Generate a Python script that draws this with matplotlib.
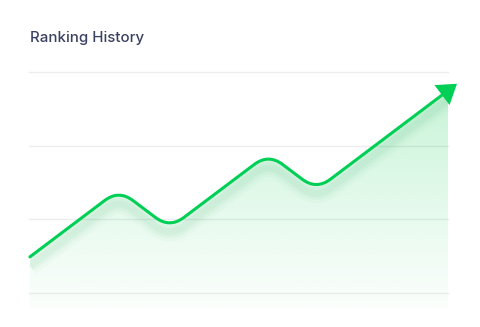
import numpy as np
from matplotlib import pyplot as plt
from matplotlib.path import Path
from matplotlib.patches import PathPatch
from matplotlib import transforms

# Ranking history points (x: time step, y: ranking score)
x_vals = [0.03, 3.0, 4.7, 8.0, 9.6, 14.3]
y_vals = [0.49, 1.40, 0.88, 1.89, 1.40, 2.84]
grid_levels = [0, 1, 2, 3]
title = "Ranking History"

GREEN = "#00cf55"


# Polyline with rounded corners (quadratic curves at inner vertices)
def rounded_path(xs, ys, r=0.47, end_x=None):
    pts = np.column_stack([xs, ys]).astype(float)
    verts = [tuple(pts[0])]
    codes = [Path.MOVETO]
    for i in range(1, len(pts) - 1):
        prev, v, nxt = pts[i - 1], pts[i], pts[i + 1]
        p_in = v + (prev - v) * (r / abs(v[0] - prev[0]))
        p_out = v + (nxt - v) * (r / abs(nxt[0] - v[0]))
        verts += [tuple(p_in), tuple(v), tuple(p_out)]
        codes += [Path.LINETO, Path.CURVE3, Path.CURVE3]
    last = pts[-1]
    if end_x is not None:
        prev = pts[-2]
        t = (end_x - prev[0]) / (last[0] - prev[0])
        last = prev + (last - prev) * t
    verts.append(tuple(last))
    codes.append(Path.LINETO)
    return verts, codes


fig = plt.figure(figsize=(4.8, 3.27), dpi=100)
ax = fig.add_axes([29 / 480, 0.059, 419 / 480, 0.7208])
ax.set_xlim(0, 14)
ax.set_ylim(-0.2, 3.0)
ax.axis('off')

fig.text(30 / 480, 1 - 38 / 327, title, fontsize=10.8, family=['Inter', 'DejaVu Sans'],
         fontweight='medium', color='#3a4060', va='center', ha='left')

for g in grid_levels:
    ax.axhline(g, color='#ededed', lw=1.0, zorder=0, clip_on=False)

# Area under the line with vertical gradient
verts, codes = rounded_path(x_vals, y_vals)
fill_verts = verts + [(x_vals[-1], -0.2), (x_vals[0], -0.2), verts[0]]
fill_codes = codes + [Path.LINETO, Path.LINETO, Path.CLOSEPOLY]
clip = PathPatch(Path(fill_verts, fill_codes), transform=ax.transData,
                 facecolor='none', edgecolor='none')
ax.add_patch(clip)

yy = np.linspace(0, 1, 256)[:, None]
grad = np.zeros((256, 2, 4))
grad[..., 0] = 0.0
grad[..., 1] = 0.80
grad[..., 2] = 0.30
grad[..., 3] = 0.02 + 0.22 * yy ** 1.1
im = ax.imshow(grad, extent=[0, 14.3, -0.2, 3.0], origin='lower', aspect='auto',
               interpolation='bilinear', zorder=1)
im.set_clip_path(clip)

# Soft shadow just under the line
shadow_tr = transforms.offset_copy(ax.transData, fig=fig, x=0, y=-9, units='dots')
for lw, a in [(14, 0.025), (9, 0.035), (5, 0.04)]:
    sh = PathPatch(Path(verts, codes), transform=shadow_tr, facecolor='none',
                   edgecolor=(0.0, 0.6, 0.25, a), lw=lw, zorder=2)
    ax.add_patch(sh)
    sh.set_clip_path(clip)

# Main line
lverts, lcodes = rounded_path(x_vals, y_vals, end_x=x_vals[-1] - 0.45)
ax.add_patch(PathPatch(Path(lverts, lcodes), facecolor='none', edgecolor=GREEN,
                       lw=2.2, capstyle='round', joinstyle='round', zorder=3,
                       clip_on=False))

# Arrow head at the end
t = 0.93
start = (x_vals[-2] + (x_vals[-1] - x_vals[-2]) * t, y_vals[-2] + (y_vals[-1] - y_vals[-2]) * t)
ax.annotate('', xy=(x_vals[-1], y_vals[-1]), xytext=start,
            arrowprops=dict(arrowstyle='-|>,head_length=1.35,head_width=0.9',
                            mutation_scale=10, color=GREEN, lw=0, shrinkA=0, shrinkB=0),
            annotation_clip=False, zorder=4)

fig.savefig('out.png', dpi=100, facecolor='white')
plt.close()
